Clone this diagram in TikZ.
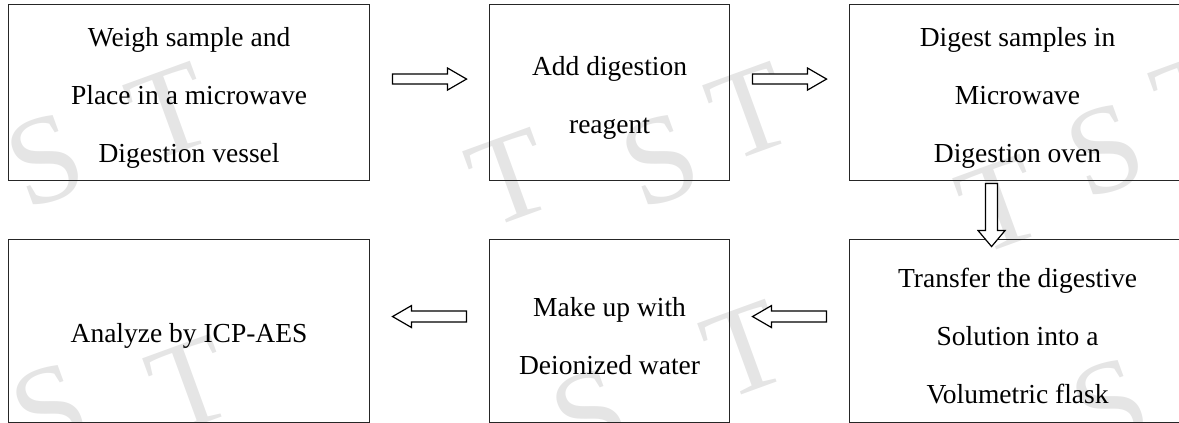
\documentclass[tikz,border=0pt]{standalone}
\usepackage{fontspec}
\setmainfont{Liberation Serif}
\usetikzlibrary{calc}
\tikzset{
  stepbox/.style={draw=black!85, line width=1.1pt, anchor=north west, inner sep=0pt},
  txt/.style={font=\fontsize{27.5}{58}\selectfont, align=center, inner sep=0pt},
  barrow/.style={draw=black, line width=1.2pt, fill=white, line join=miter},
  wm/.style={text=black!10, font=\fontsize{125}{125}\selectfont, rotate=20, inner sep=0pt}
}
\begin{document}
\begin{tikzpicture}[x=1pt,y=-1pt]
\useasboundingbox (0,0) rectangle (1179,423);
\clip (0,0) rectangle (1179,423);
% watermark
\node[wm] (w1) at (45,160) {S};
\node[wm] (w2) at (170,112) {T};
\node[wm] (w3) at (510,178) {T};
\node[wm] (w4) at (660,160) {S};
\node[wm] (w5) at (750,112) {T};
\node[wm] (w6) at (1000,205) {T};
\node[wm] (w7) at (1105,150) {S};
\node[wm] (w8) at (1195,100) {T};
\node[wm] (w9) at (50,410) {S};
\node[wm] (w10) at (190,385) {T};
\node[wm] (w11) at (590,415) {S};
\node[wm] (w12) at (745,350) {T};
\node[wm] (w13) at (1110,405) {S};
% boxes
\node[stepbox, minimum width=361pt, minimum height=176pt] (b1) at (8,4) {};
\node[stepbox, minimum width=240pt, minimum height=176pt] (b2) at (489,4) {};
\node[stepbox, minimum width=336pt, minimum height=176pt] (b3) at (849,4) {};
\node[stepbox, minimum width=361pt, minimum height=183pt] (b4) at (8,239) {};
\node[stepbox, minimum width=240pt, minimum height=183pt] (b5) at (489,239) {};
\node[stepbox, minimum width=336pt, minimum height=183pt] (b6) at (849,239) {};
% texts
\node[txt] (t1) at ([yshift=-5pt]b1.center) {Weigh sample and\\Place in a microwave\\Digestion vessel};
\node[txt] (t2) at ([yshift=-5pt]b2.center) {Add digestion\\reagent};
\node[txt] (t3) at ([yshift=-5pt]b3.center) {Digest samples in\\Microwave\\Digestion oven};
\node[txt] (t4) at ([yshift=-5pt]b4.center) {Analyze by ICP-AES};
\node[txt] (t5) at ([yshift=-5pt]b5.center) {Make up with\\Deionized water};
\node[txt] (t6) at ([yshift=-5pt]b6.center) {Transfer the digestive\\Solution into a\\Volumetric flask};
% arrow positions
\coordinate (a1) at ($(b1.east)!0.5!(b2.west)+(0,-13.5)$);
\coordinate (a2) at ($(b2.east)!0.5!(b3.west)+(0,-13.5)$);
\coordinate (a3) at ($(b3.south)!0.5!(b6.north)+(-26,5)$);
\coordinate (a4) at ($(b6.west)!0.5!(b5.east)+(0,-14.5)$);
\coordinate (a5) at ($(b5.west)!0.5!(b4.east)+(0,-14.5)$);
% right arrows
\foreach \c in {a1,a2}{
  \draw[barrow, shift={(\c)}] (-37,-5) -- (18,-5) -- (18,-11) -- (37,0) -- (18,11) -- (18,5) -- (-37,5) -- cycle;
}
% left arrows
\foreach \c in {a4,a5}{
  \draw[barrow, shift={(\c)}] (37,-5.5) -- (-18,-5.5) -- (-18,-11) -- (-37,0) -- (-18,11) -- (-18,5.5) -- (37,5.5) -- cycle;
}
% down arrow
\draw[barrow, shift={(a3)}] (-6,-31.5) -- (6,-31.5) -- (6,15.5) -- (13.5,15.5) -- (0,31.5) -- (-13.5,15.5) -- (-6,15.5) -- (-6,-31.5) -- cycle;
\end{tikzpicture}
\end{document}
